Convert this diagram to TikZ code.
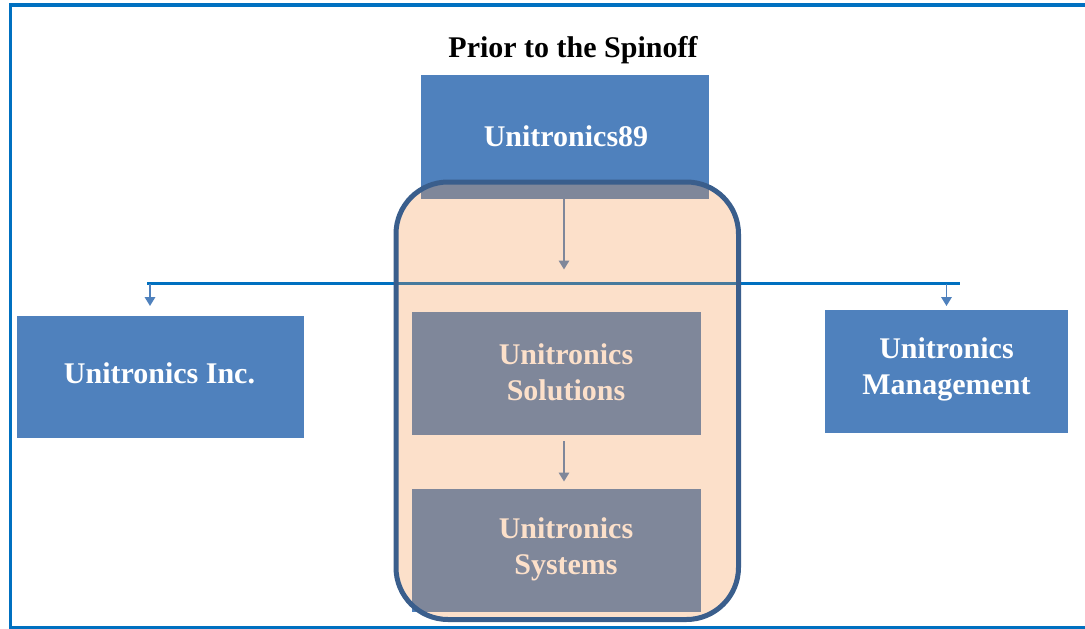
\documentclass[tikz,border=0pt]{standalone}
\usepackage{fontspec}
\setmainfont{Liberation Serif}
\usetikzlibrary{arrows.meta}
\definecolor{frameblue}{HTML}{0070C0}
\definecolor{boxblue}{HTML}{4F81BD}
\definecolor{ovl}{HTML}{F79646}
\definecolor{grpline}{HTML}{3A5E8C}
\begin{document}
\begin{tikzpicture}[x=1pt,y=-1pt,
 box/.style={fill=boxblue, inner sep=0pt, outer sep=0pt, anchor=north west},
 lbl/.style={text=white, font=\fontsize{30}{36}\selectfont\bfseries, align=center, inner sep=0pt},
 arr/.style={draw=boxblue, line width=1.7pt, -{Triangle[width=10.5pt,length=9pt]}}]
\useasboundingbox (0,0) rectangle (1085,629);
\fill[white] (0,0) rectangle (1085,629);
% frame
\draw[frameblue, line width=3.5pt] (10.5,5) rectangle (1095,628);
% title
\node[font=\fontsize{30}{34}\selectfont\bfseries, inner sep=0pt] (title) at (573,50) {Prior to the Spinoff};
% bus line
\coordinate (busL) at (147,283.5);
\coordinate (busR) at (960,283.5);
\draw[frameblue, line width=2.6pt] (busL) -- (busR);
\coordinate (aL) at (150,283.5);
\coordinate (aLe) at (150,306);
\coordinate (aR) at (946.5,283.5);
\coordinate (aRe) at (946.5,306);
\draw[arr] (aL) -- (aLe);
\draw[arr] (aR) -- (aRe);
% boxes
\node[box, minimum width=288pt, minimum height=124pt] (u89) at (421,75) {};
\node[box, minimum width=287pt, minimum height=122pt] (inc) at (17,316) {};
\node[box, minimum width=243pt, minimum height=123pt] (mgmt) at (825,310) {};
\node[box, minimum width=289pt, minimum height=123pt] (sol) at (412,312) {};
\node[box, minimum width=289pt, minimum height=123pt] (sys) at (412,489) {};
% labels
\node[lbl] (u89t) at (566,136) {Unitronics89};
\node[lbl] (inct) at (159.5,373) {Unitronics Inc.};
\node[lbl] (mgmtt) at (946.5,369) {Unitronics\\Management};
\node[lbl] (solt) at (566,372) {Unitronics\\Solutions};
\node[lbl] (syst) at (566,549) {Unitronics\\Systems};
% inner arrows
\coordinate (t1) at (564,199);
\coordinate (t1e) at (564,269.5);
\draw[arr] (t1) -- (t1e);
\coordinate (m1) at (564,441);
\coordinate (m1e) at (564,481.5);
\draw[arr] (m1) -- (m1e);
% overlay group
\node[draw=grpline, line width=5pt, fill=ovl, fill opacity=0.285, draw opacity=1,
      rounded corners=52pt, minimum width=342.5pt, minimum height=437.5pt, inner sep=0pt]
      (grp) at (567.25,400.75) {};
\end{tikzpicture}
\end{document}
